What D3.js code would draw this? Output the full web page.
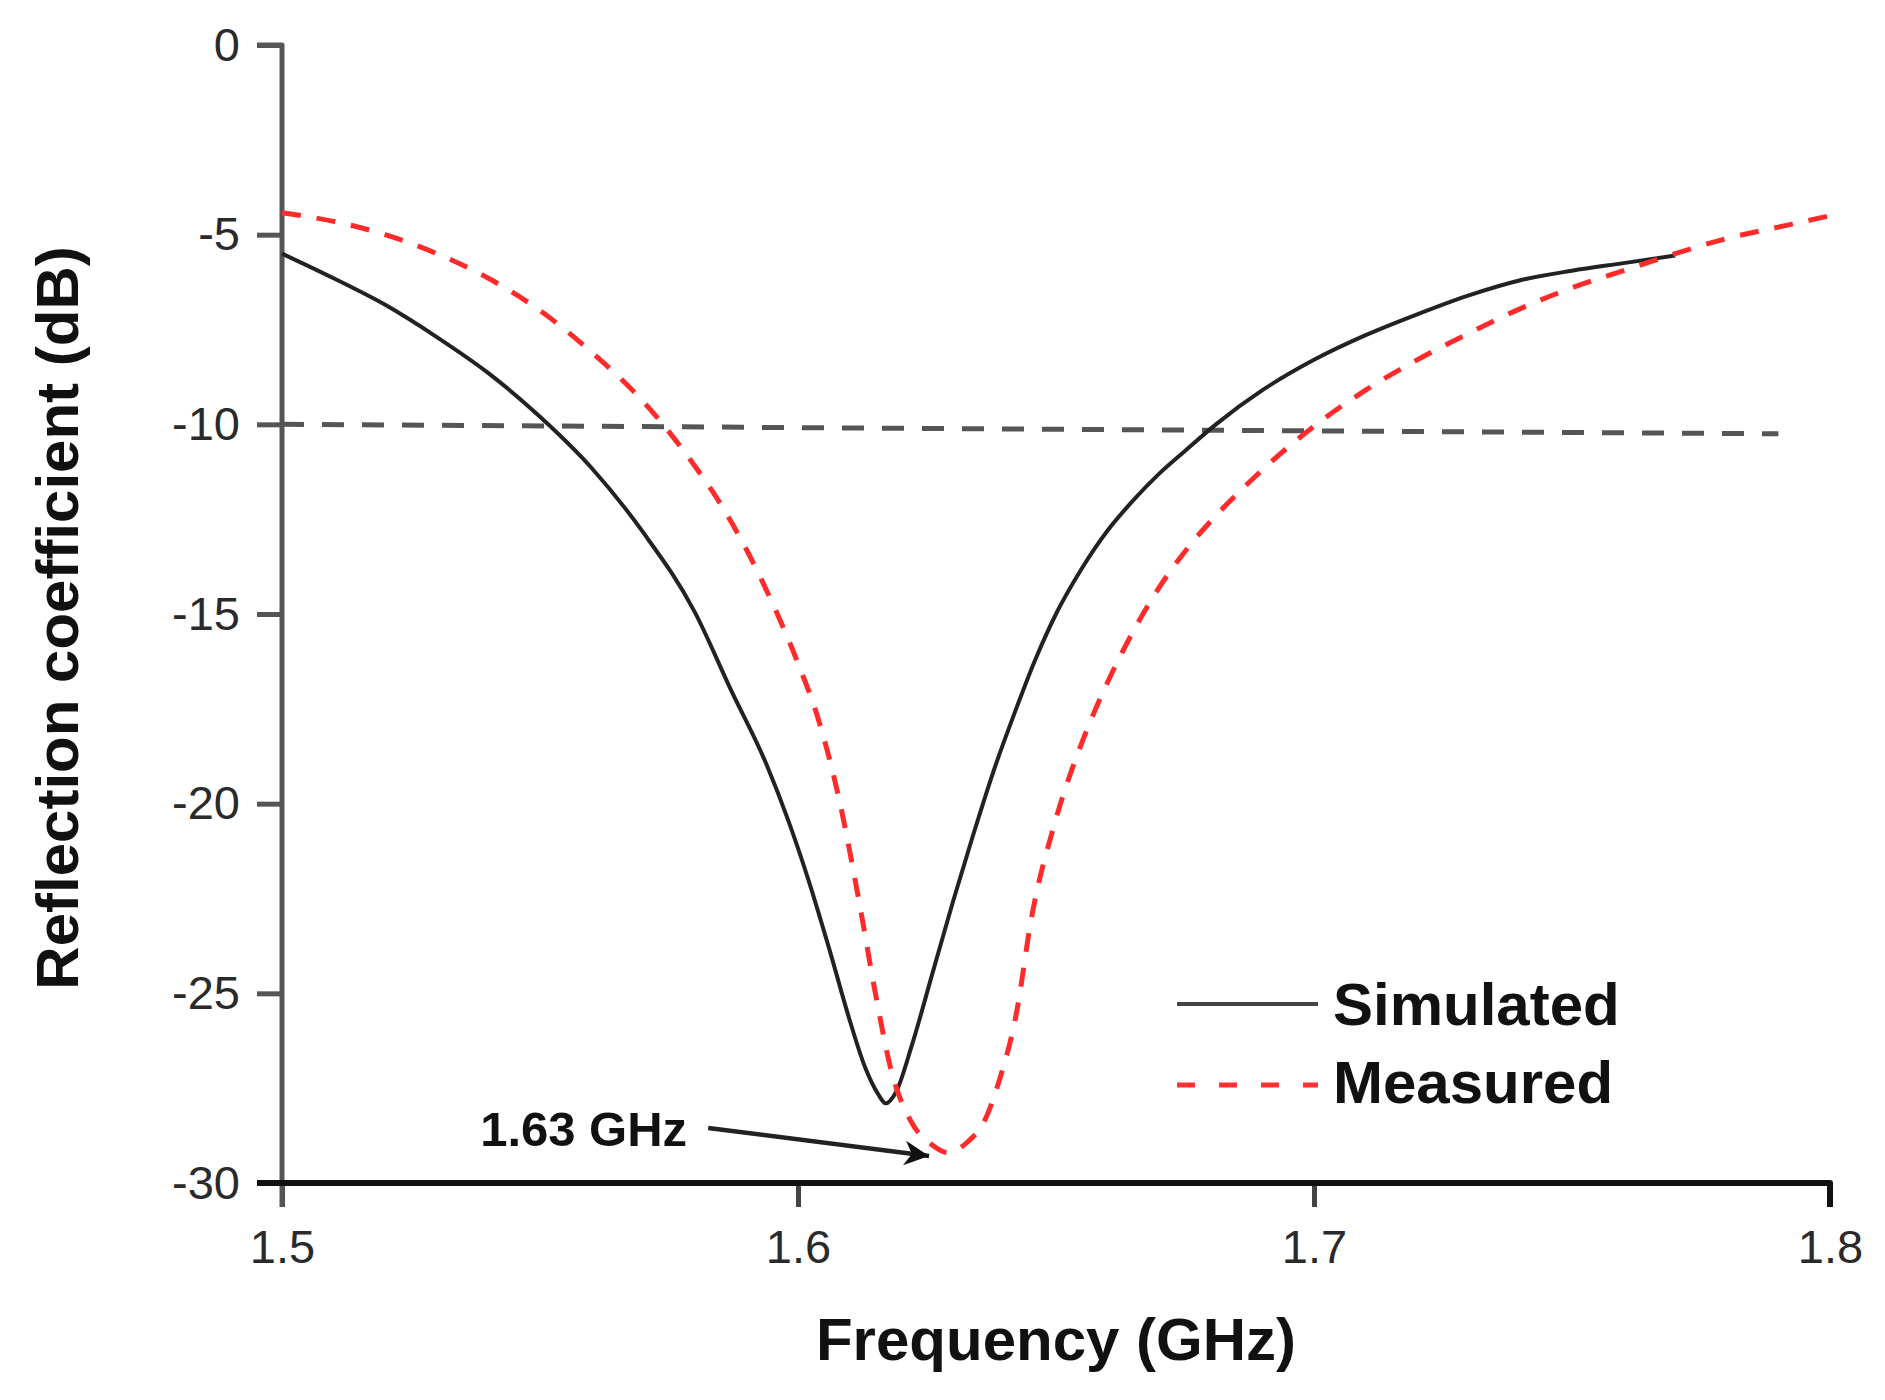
<!DOCTYPE html>
<html>
<head>
<meta charset="utf-8">
<script src="https://cdn.jsdelivr.net/npm/d3@7"></script>
<style>
  html, body { margin: 0; padding: 0; background: #fff; }
  svg { display: block; }
  text { font-family: "Liberation Sans", Arial, sans-serif; }
</style>
</head>
<body>
<svg id="chart" width="1885" height="1400"></svg>
<script>
// ---- Data ----
const simFreq = [1.500, 1.510, 1.520, 1.530, 1.540, 1.550, 1.560, 1.570, 1.580, 1.587, 1.594, 1.598, 1.602, 1.606, 1.610, 1.613, 1.6155, 1.617, 1.619, 1.622, 1.626, 1.630, 1.634, 1.638, 1.642, 1.646, 1.650, 1.655, 1.660, 1.665, 1.670, 1.675, 1.681, 1.690, 1.700, 1.710, 1.720, 1.730, 1.740, 1.750, 1.760, 1.770];
const simS11  = [-5.5, -6.15, -6.85, -7.7, -8.65, -9.8, -11.15, -12.85, -14.95, -17.0, -19.0, -20.4, -22.0, -23.8, -25.7, -26.95, -27.65, -27.9, -27.6, -26.4, -24.5, -22.6, -20.8, -19.1, -17.6, -16.2, -15.0, -13.8, -12.8, -12.0, -11.3, -10.7, -10.0, -9.1, -8.3, -7.65, -7.1, -6.6, -6.2, -5.95, -5.75, -5.55];

const measFreq = [1.500, 1.510, 1.520, 1.530, 1.540, 1.550, 1.560, 1.570, 1.575, 1.580, 1.585, 1.590, 1.595, 1.600, 1.604, 1.608, 1.612, 1.615, 1.618, 1.622, 1.626, 1.629, 1.633, 1.636, 1.639, 1.6425, 1.645, 1.650, 1.655, 1.660, 1.665, 1.670, 1.675, 1.680, 1.685, 1.690, 1.695, 1.700, 1.710, 1.720, 1.730, 1.740, 1.750, 1.760, 1.770, 1.780, 1.790, 1.800];
const measS11  = [-4.42, -4.65, -5.0, -5.5, -6.15, -7.0, -8.1, -9.4, -10.2, -11.1, -12.1, -13.3, -14.7, -16.3, -17.8, -19.9, -22.7, -25.0, -27.0, -28.4, -29.0, -29.2, -28.9, -28.4, -27.3, -25.4, -23.2, -20.4, -18.4, -16.8, -15.45, -14.3, -13.35, -12.55, -11.85, -11.2, -10.6, -10.05, -9.1, -8.3, -7.6, -6.95, -6.4, -5.95, -5.5, -5.1, -4.8, -4.5];

const refLineFreq = [1.5, 1.79];
const refLineS11  = [-10.0, -10.25];

const xTicks = [1.5, 1.6, 1.7, 1.8];
const xTickLabels = ["1.5", "1.6", "1.7", "1.8"];
const yTicks = [0, -5, -10, -15, -20, -25, -30];
const yTickLabels = ["0", "-5", "-10", "-15", "-20", "-25", "-30"];

const seriesNames = ["Simulated", "Measured"];
const xTitle = "Frequency (GHz)";
const yTitle = "Reflection coefficient (dB)";

const annotationText = "1.63 GHz";
const annotationTextAt = [1.5384, -29.03];
const arrowFrom = [1.5826, -28.55];
const arrowTo   = [1.6254, -29.29];

// ---- Chart ----
const svg = d3.select("#chart");
const x = d3.scaleLinear().domain([1.5, 1.8]).range([282, 1830]);
const y = d3.scaleLinear().domain([0, -30]).range([45, 1183]);

const sim = simFreq.map((f, i) => [f, simS11[i]]);
const meas = measFreq.map((f, i) => [f, measS11[i]]);
const ref = refLineFreq.map((f, i) => [f, refLineS11[i]]);

const line = d3.line().x(d => x(d[0])).y(d => y(d[1])).curve(d3.curveMonotoneX);

// Y axis
const yAxis = d3.axisLeft(y).tickValues(yTicks)
  .tickFormat((d, i) => yTickLabels[i]).tickSize(25).tickPadding(17).tickSizeOuter(0);
const gy = svg.append("g").attr("transform", "translate(282,0)").call(yAxis);
gy.select(".domain").remove();
gy.selectAll(".tick line").attr("stroke", "#555").attr("stroke-width", 5);
gy.selectAll(".tick text").attr("font-size", 47).attr("fill", "#2a2a2a")
  .attr("font-family", "Liberation Sans, Arial, sans-serif");

// X axis
const xAxis = d3.axisBottom(x).tickValues(xTicks)
  .tickFormat((d, i) => xTickLabels[i]).tickSize(24).tickPadding(23).tickSizeOuter(0);
const gx = svg.append("g").attr("transform", "translate(0,1183)").call(xAxis);
gx.select(".domain").remove();
gx.selectAll(".tick line").attr("stroke", "#444").attr("stroke-width", 5);
gx.selectAll(".tick text").attr("font-size", 47).attr("fill", "#2a2a2a")
  .attr("font-family", "Liberation Sans, Arial, sans-serif");

// Axis lines
svg.append("path")
  .attr("d", d3.line()([[x(1.5) - 25, y(0)], [x(1.5), y(0)], [x(1.5), y(-30) + 24]]))
  .attr("fill", "none").attr("stroke", "#555").attr("stroke-width", 5)
  .attr("stroke-linejoin", "round");
svg.append("path")
  .attr("d", d3.line()([[x(1.5) - 25, y(-30)], [x(1.8), y(-30)], [x(1.8), y(-30) + 24]]))
  .attr("fill", "none").attr("stroke", "#111").attr("stroke-width", 6)
  .attr("stroke-linejoin", "round");

// -10 dB reference line
svg.append("path").datum(ref)
  .attr("d", d3.line().x(d => x(d[0])).y(d => y(d[1])))
  .attr("fill", "none").attr("stroke", "#555").attr("stroke-width", 5)
  .attr("stroke-dasharray", "22 18");

// Simulated
svg.append("path").datum(sim).attr("d", line)
  .attr("fill", "none").attr("stroke", "#222").attr("stroke-width", 4)
  .attr("stroke-linejoin", "round");

// Measured
svg.append("path").datum(meas).attr("d", line)
  .attr("fill", "none").attr("stroke", "#ff2a2a").attr("stroke-width", 5)
  .attr("stroke-dasharray", "19 16");

// Axis titles
svg.append("text").attr("x", (x(1.5) + x(1.8)) / 2).attr("y", 1360)
  .attr("text-anchor", "middle").attr("font-size", 60).attr("font-weight", "bold")
  .attr("fill", "#111").text(xTitle);
svg.append("text").attr("transform", "translate(78,618) rotate(-90)")
  .attr("text-anchor", "middle").attr("font-size", 60).attr("font-weight", "bold")
  .attr("fill", "#111").text(yTitle);

// Legend
const legend = svg.append("g").attr("transform", "translate(1177,0)");
legend.append("line").attr("x1", 0).attr("x2", 141).attr("y1", 1004).attr("y2", 1004)
  .attr("stroke", "#444").attr("stroke-width", 4);
legend.append("line").attr("x1", 0).attr("x2", 141).attr("y1", 1085).attr("y2", 1085)
  .attr("stroke", "#ff3030").attr("stroke-width", 5).attr("stroke-dasharray", "18 24");
legend.append("text").attr("x", 156).attr("y", 1025).attr("font-size", 60)
  .attr("font-weight", "bold").attr("fill", "#111").text(seriesNames[0]);
legend.append("text").attr("x", 156).attr("y", 1103).attr("font-size", 60)
  .attr("font-weight", "bold").attr("fill", "#111").text(seriesNames[1]);

// Annotation
svg.append("defs").append("marker").attr("id", "arrow")
  .attr("viewBox", "0 0 10 10").attr("refX", 10).attr("refY", 5)
  .attr("markerWidth", 9).attr("markerHeight", 5.5).attr("markerUnits", "strokeWidth")
  .attr("orient", "auto")
  .append("path").attr("d", "M0,0 L10,5 L0,10 L3,5 Z").attr("fill", "#111");
svg.append("line")
  .attr("x1", x(arrowFrom[0])).attr("y1", y(arrowFrom[1]))
  .attr("x2", x(arrowTo[0])).attr("y2", y(arrowTo[1]))
  .attr("stroke", "#222").attr("stroke-width", 4.5).attr("marker-end", "url(#arrow)");
svg.append("text").attr("x", x(annotationTextAt[0])).attr("y", y(annotationTextAt[1]))
  .attr("font-size", 49).attr("font-weight", "bold").attr("fill", "#111")
  .text(annotationText);
</script>
</body>
</html>
